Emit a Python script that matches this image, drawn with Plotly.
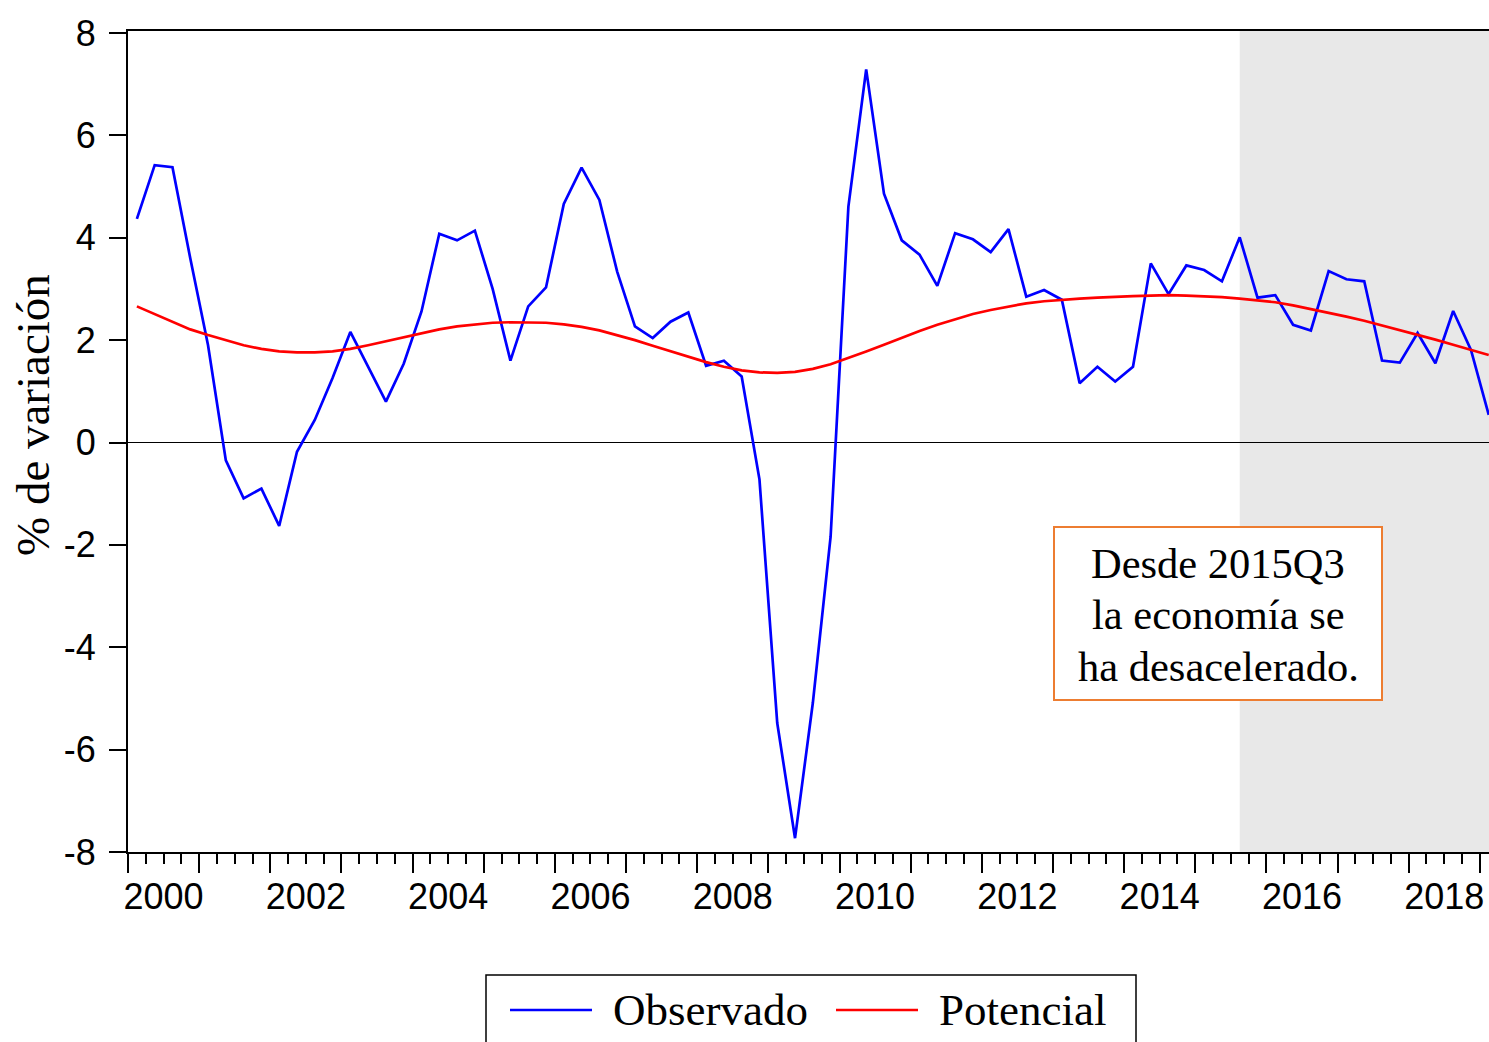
import plotly.graph_objects as go

# ---------------- data ----------------
start_year = 2000
n_quarters = 77
quarters = [f"{start_year + i // 4}Q{i % 4 + 1}" for i in range(n_quarters)]

observado = [
    4.37, 5.42, 5.38, 3.60, 1.90, -0.35, -1.09, -0.90, -1.63, -0.18,
    0.44, 1.26, 2.16, 1.48, 0.80, 1.54, 2.56, 4.08, 3.95, 4.14,
    3.00, 1.60, 2.66, 3.03, 4.66, 5.37, 4.74, 3.34, 2.27, 2.04,
    2.36, 2.54, 1.50, 1.60, 1.29, -0.72, -5.48, -7.73, -5.09, -1.84,
    4.61, 7.29, 4.86, 3.95, 3.67, 3.06, 4.09, 3.97, 3.72, 4.17,
    2.85, 2.98, 2.79, 1.16, 1.48, 1.19, 1.48, 3.50, 2.90, 3.46,
    3.37, 3.15, 4.01, 2.83, 2.88, 2.30, 2.19, 3.35, 3.19, 3.15,
    1.60, 1.56, 2.14, 1.55, 2.57, 1.81, 0.54,
]

potencial = [
    2.66, 2.51, 2.36, 2.21, 2.10, 2.00, 1.90, 1.83, 1.78, 1.76,
    1.76, 1.78, 1.83, 1.90, 1.98, 2.06, 2.14, 2.21, 2.27, 2.31,
    2.34, 2.35, 2.35, 2.34, 2.31, 2.26, 2.19, 2.10, 2.00, 1.89,
    1.78, 1.67, 1.57, 1.48, 1.41, 1.37, 1.36, 1.38, 1.44, 1.53,
    1.65, 1.78, 1.91, 2.05, 2.18, 2.30, 2.41, 2.51, 2.59, 2.66,
    2.72, 2.76, 2.79, 2.81, 2.83, 2.85, 2.86, 2.87, 2.88, 2.87,
    2.86, 2.84, 2.81, 2.78, 2.74, 2.68, 2.61, 2.54, 2.46, 2.38,
    2.29, 2.20, 2.10, 2.01, 1.91, 1.81, 1.71,
]

y_ticks = [-8, -6, -4, -2, 0, 2, 4, 6, 8]
y_tick_labels = [str(v) for v in y_ticks]          # plain hyphen-minus
year_ticks = list(range(2000, 2020))
label_years = list(range(2000, 2019, 2))
shade_start = "2015Q3"
note_lines = ["Desde 2015Q3", "la economía se", "ha desacelerado."]
series_names = ["Observado", "Potencial"]
series_colors = ["#0000FF", "#FF0000"]
y_title = "% de variación"


def qpos(label):
    yr, q = label.split("Q")
    return int(yr) + (int(q) - 0.5) / 4


x = [qpos(q) for q in quarters]

# ---------------- layout geometry (page px; page margin removed below) ----------------
W, H = 1489, 1042
PLOT_L, PLOT_R, PLOT_T, PLOT_B = 128, 1489, 31, 852
ML, MR, MT, MB = PLOT_L, W - PLOT_R, PLOT_T, H - PLOT_B
plot_w = PLOT_R - PLOT_L
plot_h = PLOT_B - PLOT_T
px_per_year = 71.15
x_range = [2000, 2000 + plot_w / px_per_year]


def px_to_paper_x(px):
    return (px - PLOT_L) / plot_w


def px_to_paper_y(py):
    return (PLOT_B - py) / plot_h


fig = go.Figure()

for name, vals, col in zip(series_names, [observado, potencial], series_colors):
    fig.add_trace(go.Scatter(
        x=x, y=vals, mode="lines", name=name,
        line=dict(color=col, width=2.7),
        showlegend=False,
    ))

# helper trace so the tick-only overlay axis is drawn
fig.add_trace(go.Scatter(
    x=[x[0]], y=[observado[0]], xaxis="x2", mode="markers",
    marker=dict(opacity=0), hoverinfo="skip", showlegend=False,
))

shapes = []
shapes.append(dict(
    type="rect", xref="x", yref="paper",
    x0=qpos(shade_start), x1=x_range[1], y0=0, y1=1,
    fillcolor="#E8E8E8", line=dict(width=0), layer="below",
))
shapes.append(dict(
    type="rect", xref="paper", yref="paper",
    x0=px_to_paper_x(1054), x1=px_to_paper_x(1382),
    y0=px_to_paper_y(700), y1=px_to_paper_y(527),
    fillcolor="white", line=dict(color="#ED7D31", width=2), layer="above",
))
shapes.append(dict(
    type="rect", xref="paper", yref="paper",
    x0=px_to_paper_x(486), x1=px_to_paper_x(1136),
    y0=px_to_paper_y(1070), y1=px_to_paper_y(975),
    fillcolor="white", line=dict(color="black", width=1.5), layer="above",
))

annotations = []
leg_y = px_to_paper_y(1010)
leg_line_x = [(510, 592), (836, 918)]
leg_text_x = [611, 937]
for name, col, (lx0, lx1), tx in zip(series_names, series_colors, leg_line_x, leg_text_x):
    shapes.append(dict(
        type="line", xref="paper", yref="paper",
        x0=px_to_paper_x(lx0), x1=px_to_paper_x(lx1), y0=leg_y, y1=leg_y,
        line=dict(color=col, width=2.7), layer="above",
    ))
    annotations.append(dict(
        xref="paper", yref="paper", x=px_to_paper_x(tx), y=leg_y,
        xanchor="left", yanchor="middle", showarrow=False, text=name,
        font=dict(family="Liberation Serif", size=45, color="black"),
    ))

note_y = [563, 614.5, 666]
for line_text, ly in zip(note_lines, note_y):
    annotations.append(dict(
        xref="paper", yref="paper",
        x=px_to_paper_x(1218), y=px_to_paper_y(ly),
        xanchor="center", yanchor="middle", showarrow=False,
        text=line_text,
        font=dict(family="Liberation Serif", size=42.5, color="black"),
    ))

annotations.append(dict(
    xref="paper", yref="paper",
    x=px_to_paper_x(33), y=px_to_paper_y(415),
    xanchor="center", yanchor="middle", showarrow=False,
    text=y_title, textangle=-90,
    font=dict(family="Liberation Serif", size=47, color="black"),
))

fig.update_layout(
    width=W, height=H,
    margin=dict(l=ML, r=MR, t=MT, b=MB, pad=0, autoexpand=False),
    paper_bgcolor="white", plot_bgcolor="white",
    shapes=shapes, annotations=annotations,
    showlegend=False,
    xaxis=dict(
        automargin=False,
        range=x_range, showgrid=False, zeroline=False,
        showline=True, linecolor="black", linewidth=2, mirror=True,
        ticks="", tickmode="array",
        tickvals=[y + 0.5 for y in label_years],
        ticktext=[str(y) for y in label_years],
        ticklabelstandoff=12,
        tickfont=dict(family="Liberation Sans", size=36, color="black"),
    ),
    xaxis2=dict(
        automargin=False,
        overlaying="x", anchor="y", side="bottom",
        range=x_range, showgrid=False, zeroline=False, showline=False,
        showticklabels=False,
        ticks="outside", tickmode="array", tickvals=year_ticks,
        ticklen=20, tickwidth=1.5, tickcolor="black",
        minor=dict(tick0=2000, dtick=0.25, ticks="outside", ticklen=11,
                   tickwidth=1.5, tickcolor="black", showgrid=False),
    ),
    yaxis=dict(
        automargin=False,
        range=[-8, 8.04], showgrid=False,
        zeroline=True, zerolinecolor="black", zerolinewidth=1,
        showline=True, linecolor="black", linewidth=2,
        ticks="outside", tickmode="array", tickvals=y_ticks, ticktext=y_tick_labels,
        ticklen=17, tickwidth=1.5, tickcolor="black",
        ticklabelstandoff=6,
        tickfont=dict(family="Liberation Sans", size=36, color="black"),
    ),
)

fig.write_html(
    "out.html",
    config={"displayModeBar": False},
    post_script="document.body.style.margin='0';document.body.style.overflow='hidden';",
)
